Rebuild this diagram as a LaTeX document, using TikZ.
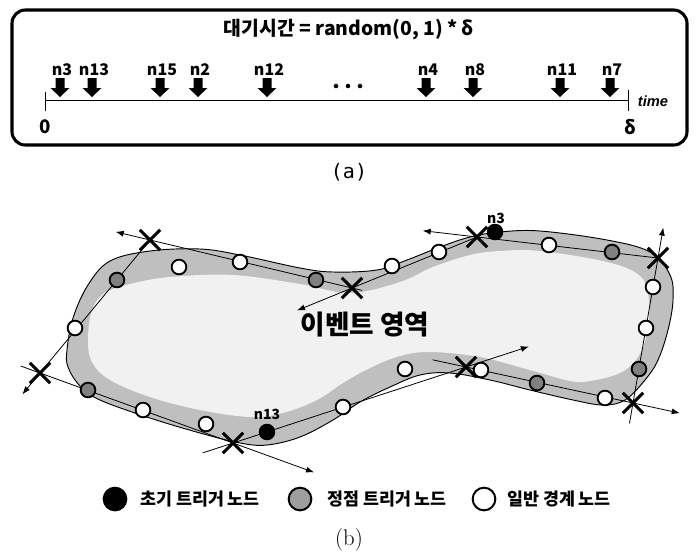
\documentclass[tikz,border=0pt]{standalone}
\usepackage{fontspec}
\newfontfamily\kr{Noto Sans CJK KR}
\newfontfamily\latinsans{Liberation Sans}
\newfontfamily\capmono{DejaVu Sans Mono}
\usetikzlibrary{arrows.meta,calc,shapes.misc}
\definecolor{bandgray}{gray}{0.75}
\definecolor{coregray}{gray}{0.945}
\definecolor{dotgray}{gray}{0.5}
\definecolor{keygray}{gray}{0.62}
\tikzset{
  darrow/.pic={\fill[black] (-4.5,-9.5) -- (4.5,-9.5) -- (4.5,0.5) -- (9.5,0.5) -- (0,9.5) -- (-9.5,0.5) -- (-4.5,0.5) -- cycle;},
  nlabel/.style={font=\kr\bfseries\fontsize{12}{14}\selectfont, inner sep=0},
  blabel/.style={font=\kr\bfseries\fontsize{10.5}{12}\selectfont, inner sep=0},
  edge line/.style={line width=0.6pt, black},
  ray/.style={edge line, -{Latex[length=6pt,width=4.5pt]}},
  xmark/.style={cross out, draw=black, line width=2.3pt, minimum size=13pt, inner sep=0},
  bnode/.style={circle, draw=black, line width=1.4pt, minimum size=11pt, inner sep=0},
  plain/.style={bnode, fill=white},
  vertex/.style={bnode, fill=dotgray},
  initial/.style={bnode, fill=black},
  keydot/.style={circle, draw=black, line width=1.5pt, minimum size=17pt, inner sep=0},
  keytext/.style={font=\kr\bfseries\fontsize{13}{15}\selectfont, inner sep=0},
}
\begin{document}
\begin{tikzpicture}[x=0.75pt,y=-0.75pt]
\useasboundingbox (0,0) rectangle (697,558);

% ---------- (a) waiting-time line ----------
\draw[line width=2.3pt, rounded corners=10pt] (12,10) rectangle (687,145);
\node[font=\kr\bfseries\fontsize{14.5}{17}\selectfont, inner sep=0] (formula) at (349,30) {대기시간 = random(0, 1) * δ};

\coordinate (t0) at (45,100);
\coordinate (t1) at (628,100);
\draw[line width=0.7pt] (t0) -- (t1);
\draw[line width=0.7pt] (45,92) -- (45,111);
\draw[line width=0.7pt] (628,90) -- (628,111);
\node[font=\kr\bfseries\fontsize{14}{16}\selectfont, inner sep=0] (zero) at (45,127) {0};
\node[font=\kr\bfseries\fontsize{14}{16}\selectfont, inner sep=0] (delta) at (630,127) {δ};
\node[font=\latinsans\bfseries\itshape\fontsize{11}{13}\selectfont, inner sep=0] (timelbl) at (653,101) {time};

\foreach \x/\lbl/\nm in {60/n3/a3, 92/n13/a13, 160/n15/a15, 198/n2/a2, 267/n12/a12,
                         426/n4/a4, 473/n8/a8, 560/n11/a11, 610/n7/a7} {
  \pic at (\x,87.5) {darrow};
  \node[nlabel] (\nm) at (\x+2,70) {\lbl};
}
\foreach \x in {336,348,360} \fill (\x,86) circle (1.7pt);

\node[font=\capmono\fontsize{15}{17}\selectfont, inner sep=0] (capa) at (349,172) {(a)};

% ---------- (b) event region ----------
\filldraw[fill=bandgray, draw=black, line width=0.7pt]
  plot[smooth cycle, tension=0.6] coordinates {
    (67,350) (73,318) (88,285) (110,261) (150,251) (200,249) (240,255) (300,268)
    (333,272) (377,270) (407,260) (440,247) (470,237) (500,232) (540,231) (607,240)
    (650,252) (670,275) (673,300) (668,330) (658,360) (645,380) (625,400) (603,405)
    (573,400) (530,390) (490,380) (450,373) (420,375) (390,387) (360,402) (333,420)
    (300,437) (267,445) (240,443) (200,433) (150,418) (100,400) (80,386) (68,367)};
\fill[coregray]
  plot[smooth cycle, tension=0.6] coordinates {
    (88,340) (92,310) (105,293) (130,284) (170,277) (233,275) (300,284) (350,293)
    (400,282) (433,267) (470,255) (500,251) (540,251) (607,262) (640,276) (649,300)
    (647,333) (638,357) (620,373) (590,381) (570,381) (530,370) (480,357) (430,352)
    (400,356) (370,368) (343,383) (317,400) (283,413) (250,417) (200,410) (150,397)
    (110,380) (92,362)};

\node[font=\kr\bfseries\fontsize{20}{24}\selectfont, inner sep=0] (region) at (365,325) {이벤트 영역};

% intersection points of the boundary estimates
\coordinate (X1) at (150,240);
\coordinate (X2) at (352,288);
\coordinate (X3) at (477,237);
\coordinate (X4) at (658,258);
\coordinate (X5) at (633,403);
\coordinate (X6) at (466,367);
\coordinate (X7) at (233,443);
\coordinate (X8) at (40,373);

% ray ends
\coordinate (r1) at ($(X1)!-0.17!(X2)$);
\coordinate (e1) at ($(X1)!1.05!(X2)$);
\coordinate (r2) at ($(X2)!-0.44!(X3)$);
\coordinate (r3) at ($(X3)!-0.30!(X4)$);
\coordinate (r4) at ($(X4)!-0.21!(X5)$);
\coordinate (e4) at ($(X4)!1.14!(X5)$);
\coordinate (r5) at ($(X5)!-0.28!(X6)$);
\coordinate (e5) at ($(X5)!1.20!(X6)$);
\coordinate (r6) at ($(X6)!-0.27!(X7)$);
\coordinate (e6) at ($(X6)!1.13!(X7)$);
\coordinate (r7) at ($(X7)!-0.42!(X8)$);
\coordinate (e7) at ($(X7)!1.10!(X8)$);
\coordinate (r8) at ($(X1)!1.16!(X8)$);

\draw[ray] (e1) -- (r1);
\draw[ray] (X3) -- (r2);
\draw[ray] (X4) -- (r3);
\draw[ray] (e4) -- (r4);
\draw[ray] (e5) -- (r5);
\draw[ray] (e6) -- (r6);
\draw[ray] (e7) -- (r7);
\draw[ray] (X1) -- (r8);

% boundary nodes
\node[vertex]  (g1) at (117,280) {};
\node[plain]   (w1) at (75,328) {};
\node[plain]   (w2) at (179,267) {};
\node[plain]   (w3) at (240,262) {};
\node[vertex]  (g2) at (316,280) {};
\node[plain]   (w4) at (392,266) {};
\node[plain]   (w5) at (439,252) {};
\node[initial] (b1) at (495,232) {};
\node[blabel] (n3lbl) at (496,218) {n3};
\node[plain]   (w6) at (549,245) {};
\node[vertex]  (g3) at (612,252) {};
\node[plain]   (w7) at (653,287) {};
\node[plain]   (w8) at (646,328) {};
\node[vertex]  (g4) at (639,369) {};
\node[plain]   (w9) at (605,398) {};
\node[vertex]  (g5) at (537,383) {};
\node[plain]   (w10) at (481,370) {};
\node[plain]   (w11) at (405,369) {};
\node[plain]   (w12) at (343,407) {};
\node[initial] (b2) at (267,432) {};
\node[blabel] (n13lbl) at (267,414) {n13};
\node[plain]   (w13) at (206,424) {};
\node[plain]   (w14) at (143,410) {};
\node[vertex]  (g6) at (88,390) {};

\foreach \p in {X1,X2,X3,X4,X5,X6,X7,X8}
  \node[xmark] at (\p) {};

% legend
\node[keydot, fill=black] (k1) at (115,499) {};
\node[keytext, anchor=west] (k1t) at (140,499) {초기 트리거 노드};
\node[keydot, fill=keygray] (k2) at (300,499) {};
\node[keytext, anchor=west] (k2t) at (327,499) {정점 트리거 노드};
\node[keydot, fill=white] (k3) at (484,499) {};
\node[keytext, anchor=west] (k3t) at (507,499) {일반 경계 노드};

\node[font=\fontsize{17}{20}\selectfont, inner sep=0] (capb) at (349,540) {(b)};
\end{tikzpicture}
\end{document}
